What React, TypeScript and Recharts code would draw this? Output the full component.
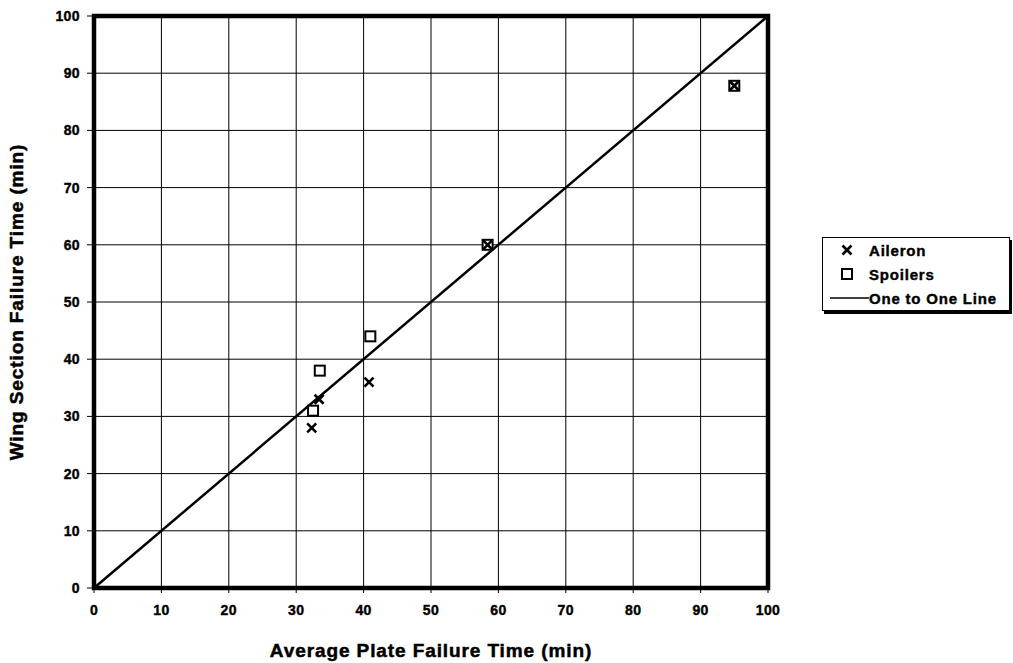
import {
  ScatterChart,
  Scatter,
  XAxis,
  YAxis,
  CartesianGrid,
  ReferenceArea,
} from "recharts";

const AILERON_X = [32.3, 33.4, 40.8, 58.4, 95.0];
const AILERON_Y = [28.0, 33.0, 36.0, 60.0, 87.8];
const SPOILER_X = [32.5, 33.5, 41.0, 58.4, 95.0];
const SPOILER_Y = [31.0, 38.0, 44.0, 60.0, 87.8];
const LINE_X = [0, 100];
const LINE_Y = [0, 100];
const TICKS = [0, 10, 20, 30, 40, 50, 60, 70, 80, 90, 100];

const aileron = AILERON_X.map((x, i) => ({ x, y: AILERON_Y[i] }));
const spoilers = SPOILER_X.map((x, i) => ({ x, y: SPOILER_Y[i] }));
const oneToOne = LINE_X.map((x, i) => ({ x, y: LINE_Y[i] }));

const FONT = "'Liberation Sans', Arial, sans-serif";

// eslint-disable-next-line @typescript-eslint/no-explicit-any
function Cross({ cx, cy }: any) {
  const s = 4.5;
  return (
    <g stroke="#000" strokeWidth={2.6}>
      <line x1={cx - s} y1={cy - s} x2={cx + s} y2={cy + s} />
      <line x1={cx - s} y1={cy + s} x2={cx + s} y2={cy - s} />
    </g>
  );
}

// eslint-disable-next-line @typescript-eslint/no-explicit-any
function Square({ cx, cy }: any) {
  return <rect x={cx - 5} y={cy - 5} width={10} height={10} fill="#fff" stroke="#000" strokeWidth={2} />;
}

function LegendBox() {
  const row = { display: "flex", alignItems: "center", height: 24 } as const;
  return (
    <div
      style={{
        position: "absolute",
        left: 822,
        top: 237,
        width: 186,
        height: 72,
        border: "1.5px solid #000",
        boxShadow: "2px 3px 0 #000",
        background: "#fff",
        fontFamily: FONT,
        fontWeight: 700,
        fontSize: 15,
        letterSpacing: 0.8,
        color: "#000",
        WebkitTextStroke: "0.4px #000",
      }}
    >
      <div style={row}>
        <svg width={46} height={20}>
          <Cross cx={24} cy={10} />
        </svg>
        <span>Aileron</span>
      </div>
      <div style={row}>
        <svg width={46} height={20}>
          <Square cx={24} cy={10} />
        </svg>
        <span>Spoilers</span>
      </div>
      <div style={row}>
        <svg width={46} height={20}>
          <line x1={7} y1={10} x2={46} y2={10} stroke="#000" strokeWidth={1.5} />
        </svg>
        <span>One to One Line</span>
      </div>
    </div>
  );
}

const tickStyle = {
  fill: "#000",
  stroke: "#000",
  strokeWidth: 0.4,
  fontSize: 14,
  fontWeight: 700,
  fontFamily: FONT,
  letterSpacing: 0.4,
};
const titleStyle = {
  fill: "#000",
  stroke: "#000",
  strokeWidth: 0.5,
  fontSize: 19,
  fontWeight: 700,
  fontFamily: FONT,
  letterSpacing: 0.9,
};

export default function App() {
  return (
    <div style={{ position: "absolute", left: 0, top: 0, width: 1013, height: 663, background: "#fff" }}>
      <ScatterChart width={1013} height={663} margin={{ top: 16, right: 245, bottom: 30, left: 0 }}>
        <CartesianGrid stroke="#000" strokeWidth={1} />
        <XAxis
          type="number"
          dataKey="x"
          domain={[0, 100]}
          ticks={TICKS}
          tick={tickStyle}
          tickLine={{ stroke: "#000" }}
          tickSize={5}
          tickMargin={12}
          axisLine={false}
          height={45}
          interval={0}
          label={{
            value: "Average Plate Failure Time (min)",
            position: "insideBottom",
            offset: -24,
            style: titleStyle,
          }}
        />
        <YAxis
          type="number"
          dataKey="y"
          domain={[0, 100]}
          ticks={TICKS}
          tick={tickStyle}
          tickLine={{ stroke: "#000" }}
          tickSize={7}
          tickMargin={7}
          axisLine={false}
          width={94}
          interval={0}
          label={{
            value: "Wing Section Failure Time (min)",
            angle: -90,
            position: "insideLeft",
            offset: 16,
            style: { ...titleStyle, textAnchor: "middle" },
          }}
        />
        <ReferenceArea x1={0} x2={100} y1={0} y2={100} fill="none" stroke="#000" strokeWidth={4.5} ifOverflow="visible" />
        <Scatter
          name="One to One Line"
          data={oneToOne}
          line={{ stroke: "#000", strokeWidth: 2.5 }}
          shape={() => <g />}
          isAnimationActive={false}
        />
        <Scatter name="Spoilers" data={spoilers} shape={<Square />} isAnimationActive={false} />
        <Scatter name="Aileron" data={aileron} shape={<Cross />} isAnimationActive={false} />
      </ScatterChart>
      <LegendBox />
    </div>
  );
}
